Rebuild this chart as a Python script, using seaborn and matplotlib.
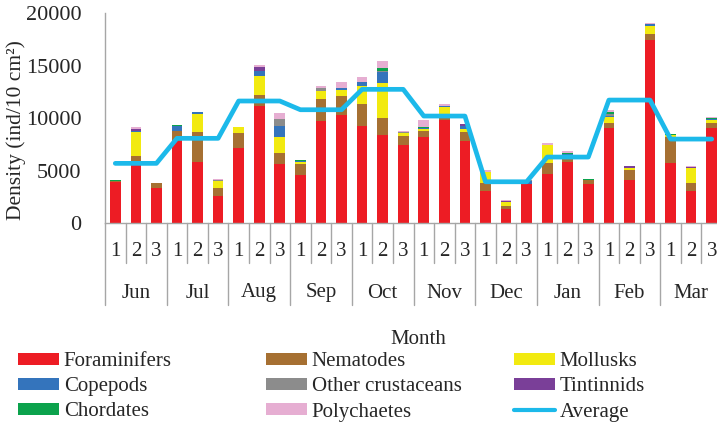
import numpy as np
import pandas as pd
import matplotlib
matplotlib.use("Agg")
import matplotlib.pyplot as plt
import matplotlib.transforms as mtransforms
from matplotlib.patches import Patch
from matplotlib.lines import Line2D
import seaborn as sns

# data (ind/10 cm2), 3 stations per month
months = ["Jun", "Jul", "Aug", "Sep", "Oct", "Nov", "Dec", "Jan", "Feb", "Mar"]
stations = ["1", "2", "3"]

foraminifers = [3900, 5500, 3350, 7850, 5850, 2550, 7200, 11200, 5650, 4550,
                9700, 10300, 9250, 8400, 7450, 8200, 9800, 7850, 3050, 1350,
                3700, 4700, 5850, 3750, 9100, 4100, 17400, 5750, 3050, 9100]
nematodes = [100, 900, 450, 900, 2850, 800, 1350, 1000, 1000, 1050,
             2100, 1850, 2050, 1650, 850, 600, 450, 850, 800, 330,
             0, 1000, 250, 350, 400, 1000, 650, 2450, 750, 400]
mollusks = [0, 2300, 0, 0, 1650, 650, 650, 1800, 1550, 200,
            800, 500, 1800, 3250, 250, 150, 800, 250, 1000, 330,
            0, 1700, 400, 0, 650, 200, 700, 150, 1450, 300]
copepods = [0, 100, 0, 550, 200, 0, 0, 500, 1100, 100,
            0, 250, 300, 1050, 0, 100, 100, 350, 0, 0,
            300, 0, 100, 0, 100, 0, 200, 0, 0, 100]
other_crustaceans = [0, 0, 0, 0, 0, 100, 0, 0, 600, 0,
                     300, 0, 0, 150, 100, 0, 0, 0, 0, 0,
                     150, 0, 0, 0, 100, 0, 0, 0, 0, 0]
tintinnids = [0, 150, 0, 0, 0, 0, 0, 400, 0, 0,
              0, 0, 0, 0, 0, 0, 0, 150, 0, 100,
              0, 0, 0, 0, 0, 150, 0, 0, 100, 0]
chordates = [100, 0, 0, 80, 0, 0, 0, 0, 0, 120,
             0, 0, 0, 300, 0, 80, 0, 0, 0, 0,
             0, 0, 100, 150, 200, 0, 0, 100, 0, 100]
polychaetes = [0, 200, 0, 0, 0, 150, 0, 150, 600, 0,
               130, 500, 550, 600, 120, 650, 150, 0, 200, 80,
               0, 200, 200, 0, 200, 0, 100, 0, 100, 80]
average = [5700, 8080, 11630, 10800, 12740, 10200, 3950, 6300, 11720, 8010]

groups = ["Foraminifers", "Nematodes", "Mollusks", "Copepods",
          "Other crustaceans", "Tintinnids", "Chordates", "Polychaetes"]
values = [foraminifers, nematodes, mollusks, copepods,
          other_crustaceans, tintinnids, chordates, polychaetes]
colors = ["#ED1C24", "#A67032", "#F2EA10", "#3474BC",
          "#8C8C8C", "#7A3F98", "#0BA24C", "#E6AED2"]
line_color = "#1CB9EA"

labels = [f"{m}-{s}" for m in months for s in stations]
df = pd.DataFrame(dict(zip(groups, values)), index=labels)
cum = df.cumsum(axis=1)

sns.set_style("white")
plt.rcParams["font.family"] = ["Liberation Serif", "DejaVu Serif"]
fs = 15

fig = plt.figure(figsize=(7.17, 4.26), dpi=100)
W, H = 717, 426
ax = fig.add_axes([105 / W, 1 - 223.3 / H, 617 / W, 210.3 / H])

# stacked bars: draw cumulative totals from the top layer down
for g, c in zip(groups[::-1], colors[::-1]):
    sns.barplot(x=labels, y=cum[g].values, color=c, saturation=1,
                width=0.52, linewidth=0, errorbar=None, ax=ax)

avg_line = np.repeat(average, 3)
sns.lineplot(x=np.arange(len(labels)), y=avg_line, color=line_color,
             linewidth=3.4, ax=ax)

ax.set_xlim(-0.5, len(labels) - 0.5)
ax.set_ylim(0, 20000)
ax.set_yticks(range(0, 20001, 5000))
ax.tick_params(axis="y", labelsize=fs + 1, length=7, color="#A6A6A6", width=1, pad=10)
ax.set_xticks([])
ax.set_xlabel("")
ax.set_ylabel("Density (ind/10 cm\u00b2)", fontsize=fs + 0.5)
ax.yaxis.set_label_coords((26 - 105) / 617, (223.3 - 130) / 210.3)
for s in ["top", "right"]:
    ax.spines[s].set_visible(False)
for s in ["left", "bottom"]:
    ax.spines[s].set_color("#A6A6A6")
    ax.spines[s].set_linewidth(1)

# two-level category axis
tr = mtransforms.blended_transform_factory(ax.transData, fig.transFigure)
y0 = 1 - 223.3 / H
for k in range(len(labels) + 1):
    ybot = 1 - (305 if k % 3 == 0 else 263) / H
    ax.add_line(Line2D([k - 0.5, k - 0.5], [y0, ybot], transform=tr,
                       color="#A6A6A6", lw=1, clip_on=False))
for i, lab in enumerate(labels):
    ax.text(i, 1 - 252 / H, lab.split("-")[1], transform=tr, ha="center",
            va="center", fontsize=fs)
for j, m in enumerate(months):
    ax.text(3 * j + 1, 1 - 293 / H, m, transform=tr, ha="center",
            va="center", fontsize=fs)
fig.text(418 / W, 1 - 339 / H, "Month", ha="center", va="center", fontsize=fs)

# legend in three columns
handles = [Patch(facecolor=c, edgecolor="none") for c in colors]
handles.append(Line2D([], [], color=line_color, lw=3))
names = groups + ["Average"]
cols = [[0, 3, 6], [1, 4, 7], [2, 5, 8]]
xs = [18, 266, 514]
for col, x in zip(cols, xs):
    fig.legend([handles[i] for i in col], [names[i] for i in col],
               loc="upper left", bbox_to_anchor=(x / W, 1 - 352 / H),
               frameon=False, fontsize=fs, borderpad=0, borderaxespad=0,
               handlelength=1.95, handleheight=0.5, handletextpad=0.25,
               labelspacing=0.3)

fig.savefig("out.png", dpi=100)
